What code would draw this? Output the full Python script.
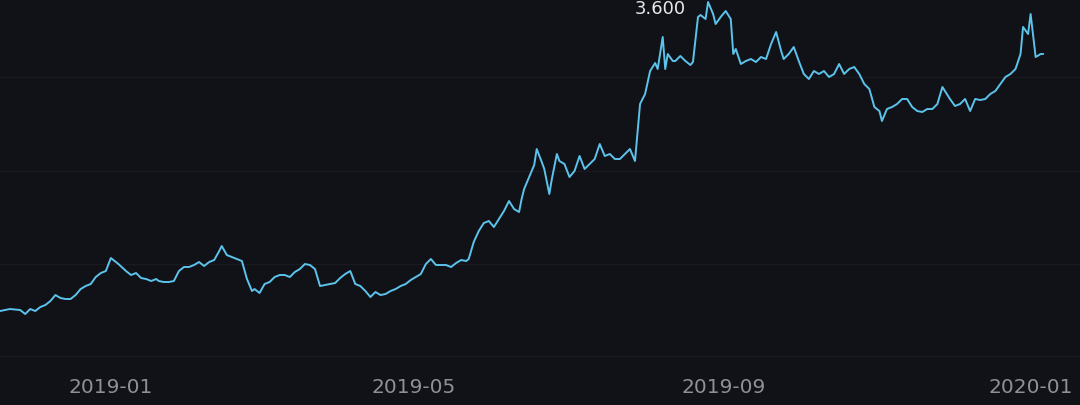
import numpy as np, pandas as pd, matplotlib
matplotlib.use("Agg")
import matplotlib.pyplot as plt, seaborn as sns

start = pd.Timestamp("2018-11-18")
day_offsets = [0,4,8,10,12,14,16,18,20,22,24,26,28,30,32,34,36,38,40,42,44,47,50,52,54,56,58,60,62,63,65,67,69,71,73,75,77,79,81,83,85,87,88,90,93,96,98,100,101,103,105,107,109,111,113,115,117,119,121,123,125,127,129,131,133,135,137,139,141,143,145,147,149,151,153,155,157,159,161,163,165,167,169,171,173,175,177,179,181,183,185,186,188,190,192,194,196,198,200,202,204,206,207,208,210,212,213,215,216,218,219,221,222,224,226,228,230,232,234,236,238,240,242,244,246,248,250,252,254,256,258,260,261,263,264,265,267,268,270,272,274,275,277,278,280,281,283,284,286,288,290,291,292,294,296,298,300,302,304,306,308,310,311,313,315,317,319,321,323,325,327,329,331,333,335,337,339,341,343,345,347,349,350,352,354,356,358,360,362,364,366,368,370,372,374,375,377,379,381,383,385,387,389,391,393,395,397,399,401,403,405,406,408,409,411,413,414]
prices = [2.055,2.065,2.06,2.04,2.065,2.055,2.075,2.085,2.105,2.135,2.12,2.115,2.115,2.135,2.165,2.18,2.19,2.225,2.245,2.255,2.32,2.29,2.255,2.235,2.245,2.22,2.215,2.205,2.215,2.205,2.2,2.2,2.205,2.255,2.275,2.275,2.285,2.3,2.28,2.3,2.31,2.355,2.38,2.335,2.32,2.305,2.215,2.155,2.165,2.145,2.19,2.2,2.225,2.235,2.235,2.225,2.25,2.265,2.29,2.285,2.265,2.18,2.185,2.19,2.195,2.22,2.24,2.255,2.19,2.18,2.155,2.125,2.15,2.135,2.14,2.155,2.165,2.18,2.19,2.21,2.225,2.24,2.29,2.315,2.285,2.285,2.285,2.275,2.295,2.31,2.305,2.315,2.4,2.455,2.495,2.505,2.475,2.515,2.555,2.605,2.565,2.55,2.615,2.665,2.725,2.785,2.865,2.8,2.765,2.64,2.715,2.84,2.805,2.79,2.725,2.755,2.83,2.765,2.79,2.815,2.89,2.83,2.84,2.815,2.815,2.84,2.865,2.805,3.09,3.14,3.255,3.295,3.265,3.425,3.265,3.34,3.305,3.305,3.33,3.305,3.285,3.3,3.525,3.535,3.515,3.6,3.54,3.49,3.525,3.555,3.515,3.34,3.365,3.29,3.305,3.315,3.3,3.325,3.315,3.39,3.45,3.355,3.315,3.34,3.375,3.305,3.24,3.215,3.255,3.24,3.255,3.225,3.24,3.29,3.24,3.265,3.275,3.24,3.19,3.165,3.075,3.055,3.005,3.065,3.075,3.09,3.115,3.115,3.075,3.055,3.05,3.065,3.065,3.09,3.175,3.155,3.115,3.08,3.09,3.115,3.055,3.115,3.11,3.115,3.14,3.155,3.19,3.225,3.24,3.265,3.34,3.475,3.44,3.54,3.325,3.34,3.34]
tick_labels = ["2019-01", "2019-05", "2019-09", "2020-01"]
max_label = "3.600"

n = min(len(day_offsets), len(prices))
df = pd.DataFrame({"date": start + pd.to_timedelta(day_offsets[:n], unit="D"), "price": prices[:n]})

bg = "#111217"
sns.set_style("dark")
fig = plt.figure(figsize=(10.8, 4.06), dpi=100, facecolor=bg)
ax = fig.add_axes([0, 0.08, 1, 0.92])
ax.set_facecolor(bg)
sns.lineplot(data=df, x="date", y="price", ax=ax, color="#5cc3ec", linewidth=1.4)
ax.set_xlim(start, start + pd.Timedelta(days=428.6))
ax.set_ylim(1.7475, 3.615)
ax.set_yticks([1.83, 2.29, 2.755, 3.225])
ax.yaxis.grid(True, color="#191b20", linewidth=1)
ax.xaxis.grid(False)
ax.set_xticks(pd.to_datetime([t + "-01" for t in tick_labels]))
ax.set_xticklabels(tick_labels, color="#8d9097", fontsize=14.5)
ax.tick_params(axis="x", length=0, pad=3)
ax.set_yticklabels([])
ax.tick_params(axis="y", length=0)
for s in ax.spines.values():
    s.set_visible(False)
ax.set_xlabel(""); ax.set_ylabel("")
imax = int(np.argmax(df["price"]))
ax.annotate(max_label, (df["date"].iloc[imax], df["price"].iloc[imax]), xytext=(-16, -4),
            textcoords="offset points", ha="right", va="center", color="#e8e8ea", fontsize=13)
fig.savefig("out.png", facecolor=bg)
